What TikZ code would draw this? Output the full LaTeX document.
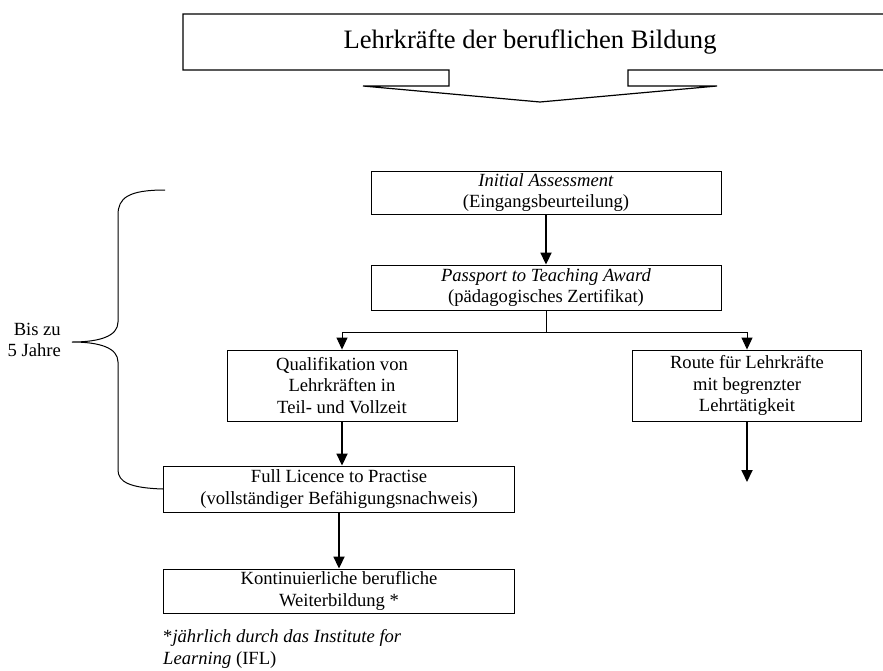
\documentclass[tikz,border=0pt]{standalone}
\usepackage{fontspec}
\setmainfont{Liberation Serif}
\usetikzlibrary{arrows.meta,positioning}

\begin{document}
\begin{tikzpicture}[
    x=1pt, y=-1pt,
    box/.style={
      draw, line width=0.9pt, fill=white, align=center,
      inner sep=0pt, font=\fontsize{18.6}{21.3}\selectfont
    },
    arr/.style={-{Triangle[length=12pt,width=11pt]}, line width=1.8pt},
    fork/.style={-{Triangle[length=12pt,width=11pt]}, line width=1pt}
  ]
    \useasboundingbox (0,0) rectangle (883,670);

    % banner with down arrow
    \draw[line width=1.2pt] (883,14) -- (183,14) -- (183,70) -- (449,70) -- (449,86) -- (363,86)
      -- (540,102) -- (717,86) -- (628,86) -- (628,70) -- (883,70);
    \node[font=\fontsize{26.6}{30}\selectfont] (banner) at (530,42) {Lehrkräfte der beruflichen Bildung};

    \node[box,minimum width=350pt,minimum height=43pt] (initial) at (546,192.5)
      {\textit{Initial Assessment}\\(Eingangsbeurteilung)};
    \node[box,minimum width=350pt,minimum height=45pt] (passport) at (546,287.5)
      {\textit{Passport to Teaching Award}\\(pädagogisches Zertifikat)};
    \node[box,minimum width=230pt,minimum height=71pt] (qual) at (342,385.5)
      {Qualifikation von\\Lehrkräften in\\Teil- und Vollzeit};
    \node[box,minimum width=229pt,minimum height=71pt] (route) at (747,385.5)
      {Route für Lehrkräfte\\mit begrenzter\\Lehrtätigkeit};
    \node[box,minimum width=351pt,minimum height=46pt] (full) at (339,489)
      {Full Licence to Practise\\(vollständiger Befähigungsnachweis)};
    \node[box,minimum width=351pt,minimum height=44pt] (kont) at (339,591)
      {Kontinuierliche berufliche\\Weiterbildung *};
    \node[align=left,anchor=north west,inner sep=0pt,font=\fontsize{18.6}{22}\selectfont] (note) at (163,629)
      {*\textit{jährlich durch das Institute for}\\\textit{Learning} (IFL)};
    \node[align=right,anchor=east,inner sep=0pt,font=\fontsize{18.6}{21.3}\selectfont] (years) at (61,340)
      {Bis zu\\5 Jahre};
    \coordinate (routeend) at (747,482);
    \coordinate (bracetop) at (165,190);

    \draw[arr] (initial) -- (passport);
    \draw[line width=1pt] (passport.south) -- ++(0,22) coordinate (split);
    \draw[fork] (split) -| (qual.north);
    \draw[fork] (split) -| (route.north);
    \draw[arr] (qual.south) -- (qual.south |- full.north);
    \draw[arr] (route.south) -- (routeend);
    \draw[arr] (full) -- (kont);

    % brace
    \draw[line width=1pt] (bracetop) .. controls (128,190) and (118,198) .. (118,215) -- (118,322)
      .. controls (118,336) and (100,342) .. (72,342) .. controls (100,342) and (118,348) .. (118,362)
      -- (118,470) .. controls (118,482) and (130,488) .. (full.west);
\end{tikzpicture}
\end{document}
